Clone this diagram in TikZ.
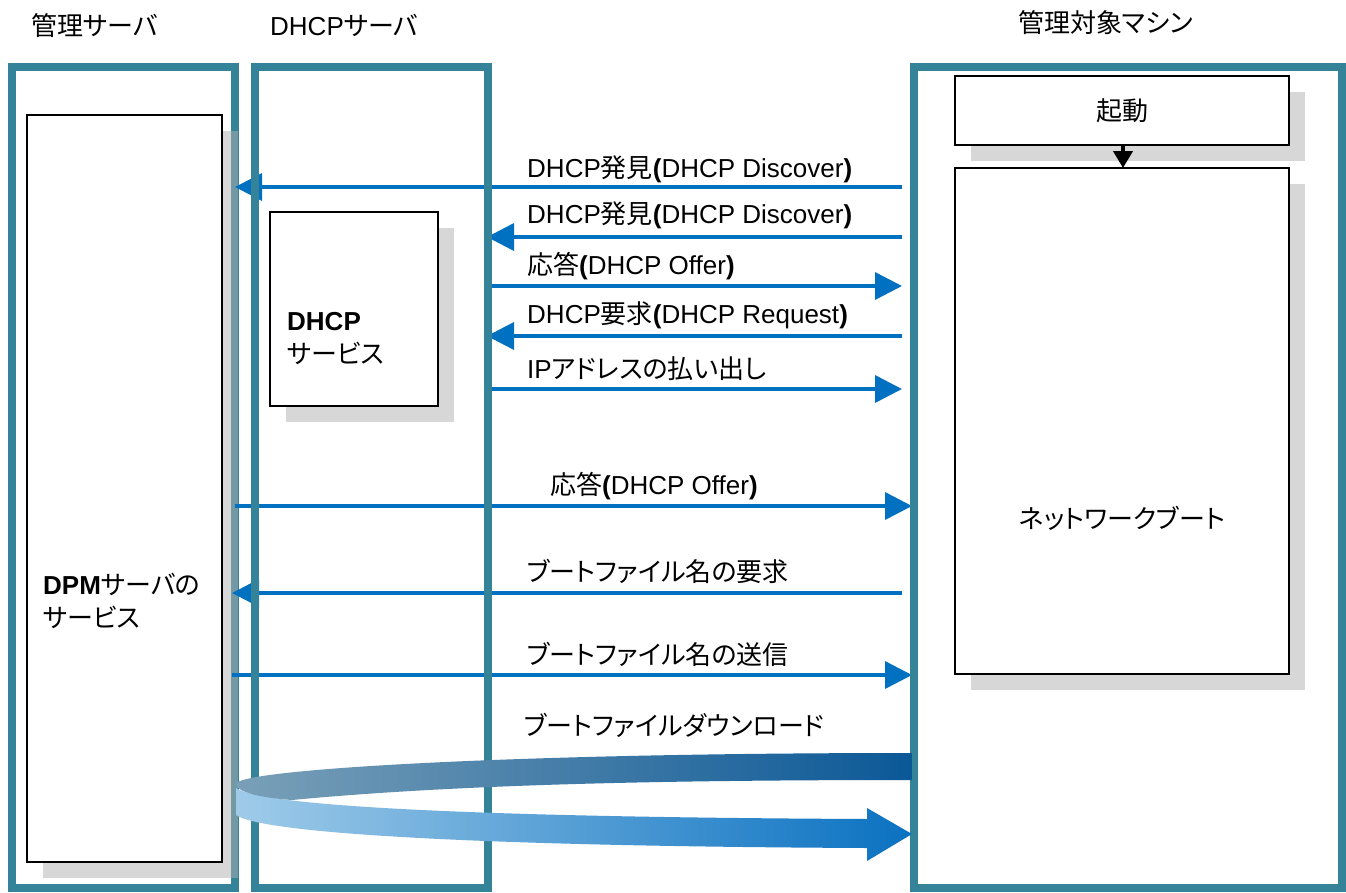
\documentclass[tikz,border=0pt]{standalone}
\usepackage{fontspec}
\setmainfont{Liberation Sans}
\newfontfamily\jp[RawFeature=+palt]{Noto Sans CJK JP}
\usetikzlibrary{arrows.meta,shadows}
\definecolor{panel}{RGB}{52,131,153}
\definecolor{arr}{RGB}{0,112,192}
\definecolor{topL}{RGB}{122,160,184}
\definecolor{topR}{RGB}{11,88,151}
\definecolor{botL}{RGB}{159,203,233}
\definecolor{botR}{RGB}{10,113,193}
\begin{document}
\begin{tikzpicture}[x=1pt,y=-1pt,
  txt/.style={font=\fontsize{26}{31}\selectfont, inner sep=0pt, anchor=base west, text=black},
  panelbox/.style={draw=panel, line width=8pt, inner sep=0pt, outer sep=0pt, anchor=north west},
  boxshadow/.style={drop shadow={shadow xshift=16pt, shadow yshift=-16pt, fill=black!31, opacity=0.5}},
  whitebox/.style={draw=black, line width=1.3pt, fill=white, inner sep=0pt, outer sep=0pt, anchor=north west, boxshadow, font=\fontsize{26}{31}\selectfont},
  msg/.style={draw=arr, line width=3.5pt, -{Triangle[length=27pt,width=27pt]}}]
\useasboundingbox[fill=white] (0,0) rectangle (1346,892);

% management server panel
\node[panelbox, minimum width=223pt, minimum height=821pt] (mgr) at (12,67) {};

% boxes with shadows
\node[whitebox, minimum width=195pt, minimum height=747pt] (dpm) at (27,115) {};
\node[whitebox, minimum width=168pt, minimum height=194pt] (svc) at (270,212) {};
\node[whitebox, minimum width=334pt, minimum height=506pt] (net) at (955,168) {};
\node[whitebox, minimum width=334pt, minimum height=69pt] (kido) at (955,76) {\jp 起動};
\draw[line width=4pt, -{Triangle[length=17pt,width=19pt]}] (kido.south -| 1123,0) -- (net.north -| 1123,0);

% message arrows
\coordinate (a1s) at (902,187); \coordinate (a1e) at (235,187);
\coordinate (a2s) at (902,237); \coordinate (a2e) at (487,237);
\coordinate (a3s) at (487,286); \coordinate (a3e) at (902,286);
\coordinate (a4s) at (902,336); \coordinate (a4e) at (487,336);
\coordinate (a5s) at (487,389); \coordinate (a5e) at (902,389);
\coordinate (a6s) at (235,506); \coordinate (a6e) at (912,506);
\coordinate (a7s) at (902,593); \coordinate (a7e) at (232,593);
\coordinate (a8s) at (232,675); \coordinate (a8e) at (912,675);
\foreach \i in {1,...,8} { \draw[msg] (a\i s) -- (a\i e); }

% DHCP server panel and target machine panel
\node[panelbox, minimum width=233pt, minimum height=821pt] (dhcp) at (255,67) {};
\node[panelbox, line width=7.5pt, minimum width=428pt, minimum height=821pt] (tgt) at (914,67) {};

% big curved download arrow
\shade[left color=botL, right color=botR]
  (236,788) .. controls (260,805) and (450,817) .. (867,819) -- (867,808) -- (912,834)
  -- (867,861) -- (867,848) .. controls (450,846) and (260,832) .. (236,815) -- cycle;
\shade[left color=topL, right color=topR]
  (912,753) .. controls (500,753) and (236,770) .. (236,784)
  .. controls (236,792) and (262,798) .. (292,800)
  .. controls (450,785) and (650,780) .. (912,780) -- cycle;

% titles
\node[txt] (t1) at (31,35) {\jp 管理サーバ};
\node[txt] (t2) at (270,35) {DHCP{\jp サーバ}};
\node[txt] (t3) at (1018,32) {\jp 管理対象マシン};

% box texts
\node[txt] (dpm1) at (43,594) {\textbf{DPM}{\jp サーバの}};
\node[txt] (dpm2) at (43,627) {\jp サービス};
\node[txt] (svc1) at (287,330) {\textbf{DHCP}};
\node[txt] (svc2) at (287,363) {\jp サービス};
\node[txt, anchor=center] (nettxt) at (1122,518) {\jp ネットワークブート};

% message labels
\node[txt] (l1) at (527,177) {DHCP{\jp 発見}\textbf{(}DHCP Discover\textbf{)}};
\node[txt] (l2) at (527,223) {DHCP{\jp 発見}\textbf{(}DHCP Discover\textbf{)}};
\node[txt] (l3) at (527,274) {{\jp 応答}\textbf{(}DHCP Offer\textbf{)}};
\node[txt] (l4) at (527,323) {DHCP{\jp 要求}\textbf{(}DHCP Request\textbf{)}};
\node[txt] (l5) at (527,378) {IP{\jp アドレスの払い出し}};
\node[txt] (l6) at (550,494) {{\jp 応答}\textbf{(}DHCP Offer\textbf{)}};
\node[txt] (l7) at (527,581) {\jp ブートファイル名の要求};
\node[txt] (l8) at (527,664) {\jp ブートファイル名の送信};
\node[txt] (l9) at (524,735) {\jp ブートファイルダウンロード};
\end{tikzpicture}
\end{document}
